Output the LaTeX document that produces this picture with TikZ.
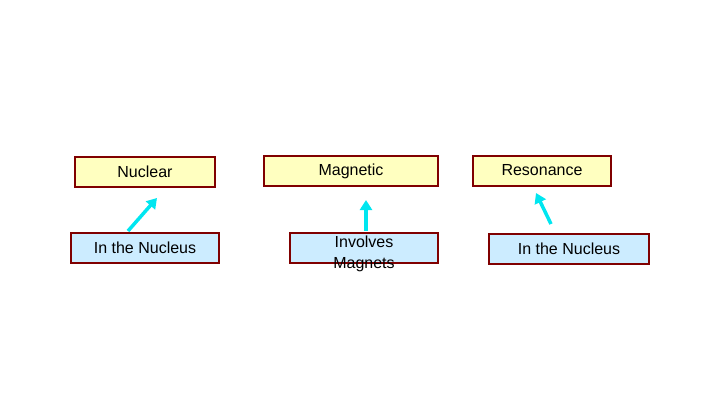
\documentclass[tikz,border=0pt]{standalone}
\usepackage{fontspec}
\setmainfont{Liberation Sans}
\usetikzlibrary{arrows.meta}
\definecolor{boxred}{RGB}{128,0,0}
\definecolor{paleyellow}{RGB}{255,255,192}
\definecolor{paleblue}{RGB}{204,236,255}
\definecolor{arrowcyan}{RGB}{0,230,240}
\tikzset{
	word/.style={draw=boxred,line width=1.5pt,fill=paleyellow,minimum height=30pt,inner sep=0pt,font=\fontsize{16}{21}\selectfont},
	hint/.style={word,fill=paleblue},
	pointer/.style={-{Triangle[length=10pt,width=12pt]},draw=arrowcyan,line width=3.5pt}
}
\begin{document}
\begin{tikzpicture}[x=1pt,y=1pt]
		\useasboundingbox (0,0) rectangle (720,405);
		\node[word,minimum width=140pt] (N) at (145,233) {Nuclear};
		\node[word,minimum width=174pt] (M) at (351,234) {\raisebox{2pt}{Magnetic}};
		\node[word,minimum width=138pt] (R) at (542,234) {\raisebox{2pt}{Resonance}};
		\node[hint,minimum width=148pt] (N') at (145,157) {In the Nucleus};
		\node[hint,minimum width=148pt] (M') at (364,157) {\smash{\raisebox{-10pt}{\begin{tabular}{@{}c@{}}Involves\\Magnets\end{tabular}}}};
		\node[hint,minimum width=160pt] (R') at (569,156) {In the Nucleus};
		\coordinate (n1) at (128,174);
		\coordinate (n2) at (157,207);
		\coordinate (m1) at (366,174);
		\coordinate (m2) at (366,205);
		\coordinate (r1) at (551,181);
		\coordinate (r2) at (536,212);
		%
		\draw[pointer] (n1) -- (n2);
		\draw[pointer] (m1) -- (m2);
		\draw[pointer] (r1) -- (r2);
\end{tikzpicture}
\end{document}
